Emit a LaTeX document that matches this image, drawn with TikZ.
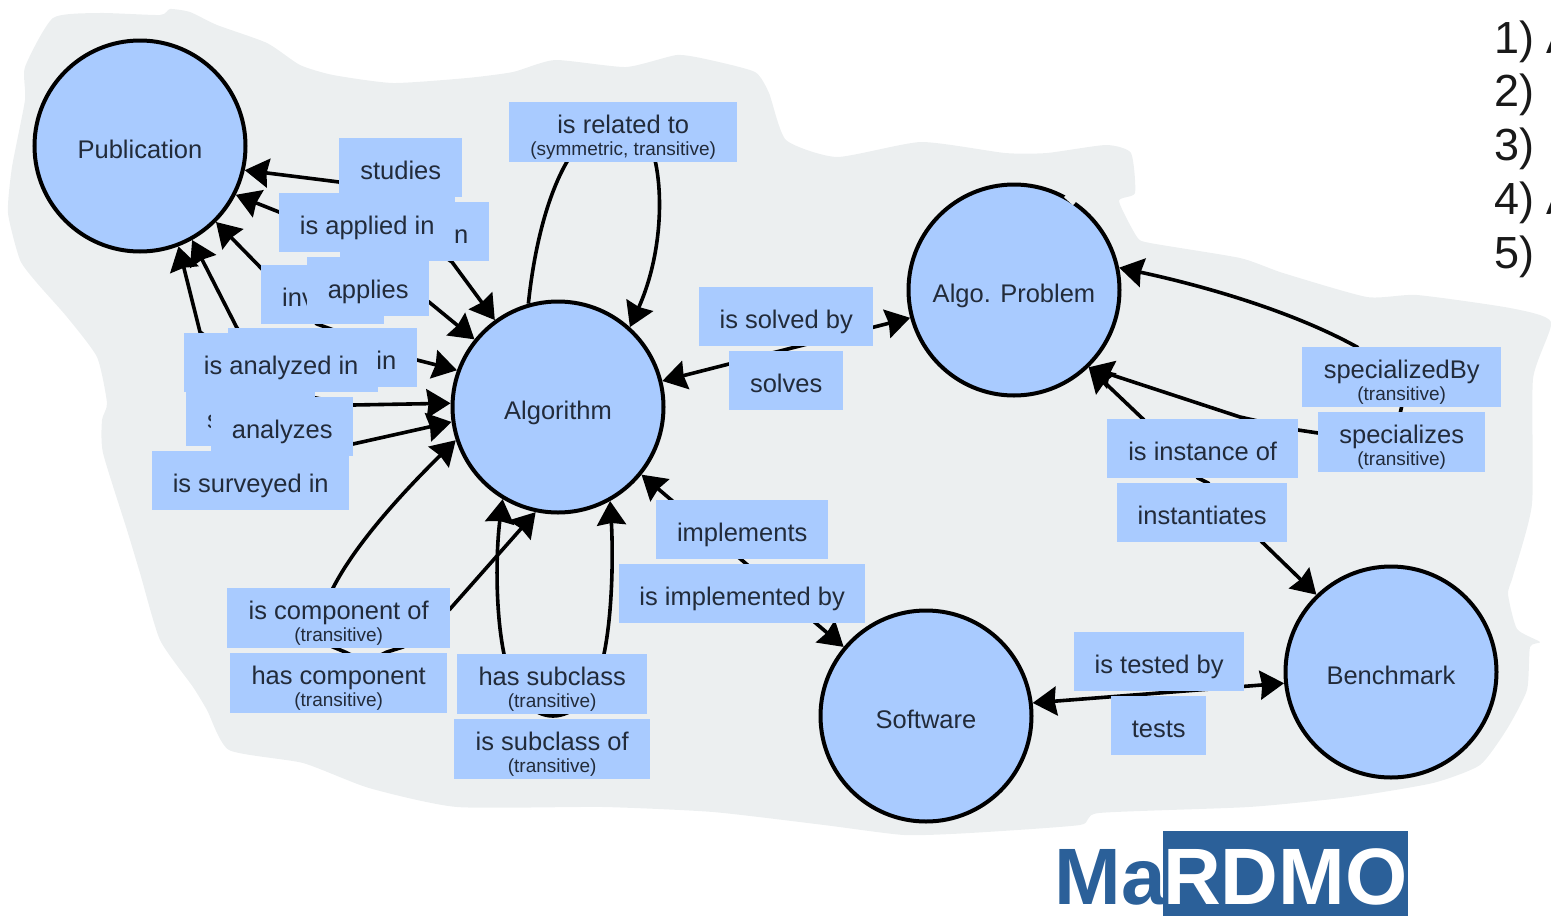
\documentclass[tikz,border=0pt]{standalone}
\usepackage{fontspec}
\setmainfont{Liberation Sans}
\usetikzlibrary{arrows.meta}
\definecolor{blobgray}{HTML}{ECEFF0}
\definecolor{boxblue}{HTML}{A9CBFF}
\definecolor{inkblue}{HTML}{222B3A}
\definecolor{logoblue}{HTML}{2B6099}
\newcommand{\subline}[1]{{\fontsize{19}{22}\selectfont #1}}
\tikzstyle{concept} = [circle, minimum size=211pt, inner sep=0pt, line width=4pt, draw=black, fill=boxblue, text=inkblue, font=\fontsize{25.5}{28}\selectfont, text height=25pt, text depth=0pt]
\tikzstyle{relation} = [rectangle, anchor=north west, inner sep=0pt, fill=boxblue, text=inkblue, font=\fontsize{25.5}{22}\selectfont, text height=41pt, text depth=18pt]
\tikzstyle{relationsub} = [relation, align=center, text height=53pt, text depth=6.5pt]
\tikzstyle{cutoff} = [relation, inner xsep=21pt]
\tikzstyle{arrow} = [line width=3.6pt,<->,>={Stealth[length=24pt,width=29pt,inset=2pt]}]
\tikzstyle{numbered} = [anchor=base west, inner sep=0pt, font=\fontsize{45}{50}\selectfont, text=black!90]
\tikzstyle{logotext} = [inner sep=0pt, font=\fontsize{80}{80}\selectfont\bfseries]

\begin{document}
\begin{tikzpicture}[x=1pt,y=-1pt]
\useasboundingbox (0,0) rectangle (1551,916);
% grey patch behind the graph
\fill [blobgray] plot [smooth cycle, tension=0.35] coordinates {
(25,67) (53,18) (100,13) (160,15) (170,9) (190,12) (217,25) (267,43) (300,65) (333,75) (393,83) (467,78) (513,72) (555,60) (626,67) (677,55) (710,60) (755,72) (769,93) (786,140) (837,157) (921,142) (1005,153) (1047,153) (1106,145) (1131,153) (1135,193) (1119,201) (1137,237) (1150,243) (1240,258) (1283,273) (1367,297) (1417,295) (1510,308) (1551,322) (1533,379) (1532,504) (1513,576) (1508,594) (1517,629) (1540,642) (1530,647) (1527,690) (1507,729) (1480,765) (1433,783) (1350,797) (1249,807) (1099,813) (1080,825) (970,833) (904,835) (824,825) (713,812) (603,807) (457,807) (369,788) (303,763) (229,750) (207,710) (193,687) (160,640) (140,573) (127,530) (103,453) (102,420) (107,403) (97,357) (67,317) (37,283) (20,260) (8,213) (12,167) (25,100)};

% concepts
\node (publication) [concept] at (140,146) {Publication};
\node (algorithm) [concept] at (558,407) {Algorithm};
\node (problem) [concept] at (1014,290) {Algo. Problem};
\node (software) [concept] at (926,716) {Software};
\node (benchmark) [concept] at (1391,672) {Benchmark};
\draw [blobgray, line width=6pt] (1066,195) -- (1075,203);

% connectors, the labels go on top of them
\draw [arrow] (publication.-13) -- (339,182) -- (452,262) -- (algorithm.126);
\draw [arrow] (publication.-27) -- (279,212) -- (429,302) -- (algorithm.141);
\draw [arrow] (publication.-45) -- (261,268) -- (317,324) -- (328,328) -- (417,360) -- (algorithm.160);
\draw [arrow] (publication.-61) -- (237,328) -- (300,395) -- (353,405) -- (algorithm.178);
\draw [arrow] (publication.-69) -- (200,332) -- (353,444) -- (algorithm.188);
\draw [arrow, ->] (algorithm.106) .. controls (535,240) and (550,190) .. (568,160) -- (571,150) -- (654,150) -- (655,160) .. controls (664,200) and (660,260) .. (algorithm.48);
\draw [arrow] (algorithm.198) .. controls (400,495) and (355,545) .. (333,588) -- (333,647) -- (345,652) -- (366,662) -- (387,652) -- (403,647) -- (450,609) -- (algorithm.258);
\draw [arrow] (algorithm.239) .. controls (496,550) and (495,610) .. (504,654) .. controls (512,700) and (535,716) .. (553,716) .. controls (571,716) and (596,700) .. (604,654) .. controls (613,610) and (613,550) .. (algorithm.299);
\draw [arrow] (algorithm.14) -- (problem.195);
\draw [arrow] (algorithm.321) -- (software.140);
\draw [arrow] (software.7) -- (benchmark.186);
\draw [arrow] (problem.12) .. controls (1200,285) and (1290,310) .. (1357,347) -- (1402,405) -- (1400,414) -- (1395,440) -- (1318,433) -- (1298,430) -- (1240,417) -- (problem.-46);
\draw [arrow] (problem.-46) -- (1143,419) -- (1198,478) -- (1208,483) -- (1262,542) -- (benchmark.134);

% labels
\node (studies) [relation, minimum width=123pt] at (339,138) {studies};
\node (studiedin) [cutoff, text width=107pt, align=right] at (340,202) {n};
\node (appliedin) [relation, minimum width=176pt] at (279,193) {is applied in};
\node (invented) [cutoff, text width=81pt, align=left] at (261,265) {inv};
\node (applies) [relation, minimum width=122pt] at (307,257) {applies};
\node (usedin) [cutoff, text width=147pt, align=right] at (228,328) {in};
\node (analyzedin) [relation, minimum width=194pt] at (184,333) {is analyzed in};
\node (surveys) [cutoff, text width=87pt, align=left] at (186,387) {s};
\node (analyzes) [relation, minimum width=142pt] at (211,397) {analyzes};
\node (surveyedin) [relation, minimum width=197pt] at (152,451) {is surveyed in};
\node (related) [relationsub, minimum width=228pt] at (509,102) {is related to\\\subline{(symmetric, transitive)}};
\node (solvedby) [relation, minimum width=174pt] at (699,287) {is solved by};
\node (solves) [relation, minimum width=114pt] at (729,351) {solves};
\node (specializedby) [relationsub, minimum width=199pt] at (1302,347) {specializedBy\\\subline{(transitive)}};
\node (specializes) [relationsub, minimum width=167pt] at (1318,412) {specializes\\\subline{(transitive)}};
\node (instanceof) [relation, minimum width=191pt] at (1107,419) {is instance of};
\node (instantiates) [relation, minimum width=170pt] at (1117,483) {instantiates};
\node (implements) [relation, minimum width=172pt] at (656,500) {implements};
\node (implementedby) [relation, minimum width=246pt] at (619,564) {is implemented by};
\node (testedby) [relation, minimum width=170pt] at (1074,632) {is tested by};
\node (tests) [relation, minimum width=95pt] at (1111,696) {tests};
\node (componentof) [relationsub, minimum width=223pt] at (227,588) {is component of\\\subline{(transitive)}};
\node (hascomponent) [relationsub, minimum width=217pt] at (230,653) {has component\\\subline{(transitive)}};
\node (hassubclass) [relationsub, minimum width=190pt] at (457,654) {has subclass\\\subline{(transitive)}};
\node (subclassof) [relationsub, minimum width=196pt] at (454,719) {is subclass of\\\subline{(transitive)}};

% list at the top right, cut off by the page edge
\node (item1) [numbered] at (1494,53) {1) A};
\node (item2) [numbered] at (1494,106) {2)};
\node (item3) [numbered] at (1494,160) {3)};
\node (item4) [numbered] at (1494,214) {4) A};
\node (item5) [numbered] at (1494,268) {5)};

% logo
\node (logoma) [logotext, anchor=base east, text=logoblue] at (1166,904) {Ma};
\node (logobox) [anchor=north west, inner sep=0pt, minimum width=245pt, minimum height=85pt, fill=logoblue] at (1163,831) {};
\node (logordmo) [logotext, anchor=base west, text=white] at (1163,904) {RDMO};
\end{tikzpicture}
\end{document}
